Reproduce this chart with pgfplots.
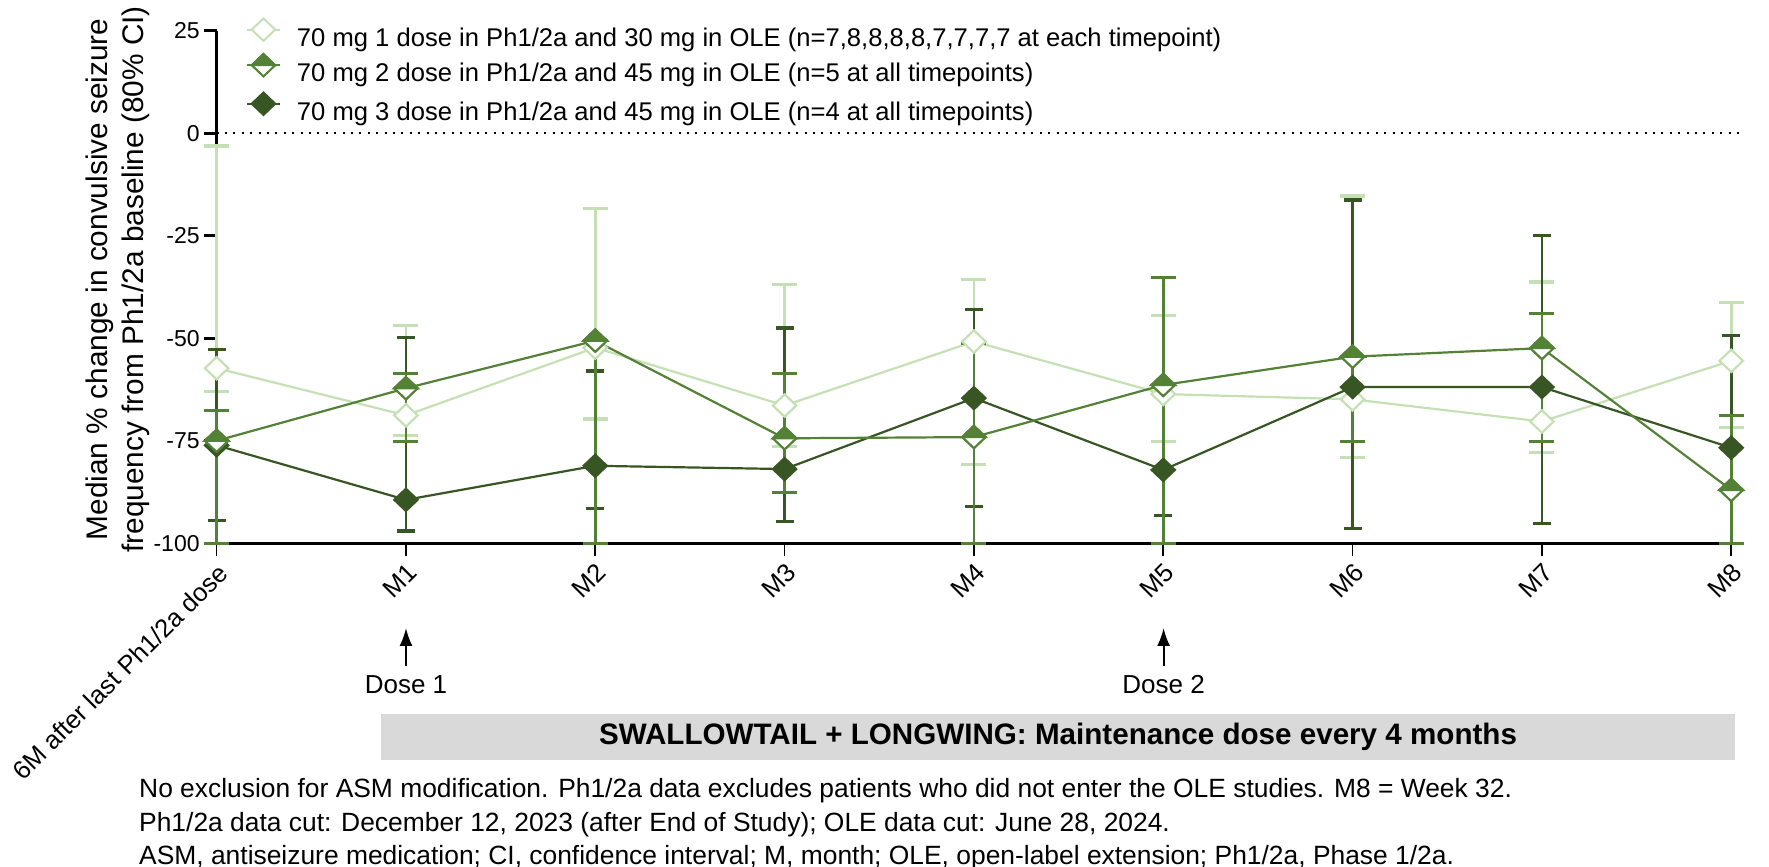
\documentclass[border=0pt]{standalone}
\usepackage{pgfplots}
\pgfplotsset{compat=1.18}
\usepackage{pgfplotstable}
\usetikzlibrary{arrows.meta}
\usepackage{fontspec}
\setmainfont{Liberation Sans}
\definecolor{cL}{HTML}{C5E0B4}
\definecolor{cM}{HTML}{538135}
\definecolor{cD}{HTML}{375623}
\definecolor{boxgray}{HTML}{D9D9D9}

\pgfdeclareplotmark{dia}{%
  \pgfpathmoveto{\pgfqpoint{0pt}{\pgfplotmarksize}}%
  \pgfpathlineto{\pgfqpoint{1.05\pgfplotmarksize}{0pt}}%
  \pgfpathlineto{\pgfqpoint{0pt}{-\pgfplotmarksize}}%
  \pgfpathlineto{\pgfqpoint{-1.05\pgfplotmarksize}{0pt}}%
  \pgfpathclose\pgfusepathqfillstroke}
\pgfdeclareplotmark{halfdia}{%
  \pgfsetfillcolor{white}%
  \pgfpathmoveto{\pgfqpoint{0pt}{\pgfplotmarksize}}%
  \pgfpathlineto{\pgfqpoint{1.05\pgfplotmarksize}{0pt}}%
  \pgfpathlineto{\pgfqpoint{0pt}{-\pgfplotmarksize}}%
  \pgfpathlineto{\pgfqpoint{-1.05\pgfplotmarksize}{0pt}}%
  \pgfpathclose\pgfusepathqfillstroke
  \pgfsetfillcolor{cM}%
  \pgfpathmoveto{\pgfqpoint{-1.05\pgfplotmarksize}{0pt}}%
  \pgfpathlineto{\pgfqpoint{0pt}{\pgfplotmarksize}}%
  \pgfpathlineto{\pgfqpoint{1.05\pgfplotmarksize}{0pt}}%
  \pgfpathclose\pgfusepathqfillstroke}

\pgfplotsset{
  legax/.style={
    at={(0pt,0pt)}, anchor=south west,
    scale only axis, width=763pt, height=256.3pt,
    hide axis, xmin=0, xmax=763, ymin=0, ymax=256.3, clip=false,
    legend cell align=left,
    legend style={at={(axis cs:15,#1)}, anchor=west,
      draw=none, fill=none, inner sep=0pt,
      font=\fontsize{12.8}{14}\selectfont,
      nodes={inner sep=0pt, text height=11pt, text depth=3.5pt},
      /tikz/every odd column/.append style={column sep=8.5pt}},
    legend image code/.code={%
      \pgfpathrectangle{\pgfqpoint{0pt}{-3.5pt}}{\pgfqpoint{16.5pt}{14.5pt}}\pgfusepath{use as bounding box}%
      \draw[mark repeat=2,mark phase=2] plot coordinates {(0pt,4.5pt) (8.25pt,4.5pt) (16.5pt,4.5pt)};},
  }
}

% x  median  error-plus  error-minus
\pgfplotstableread{
x y ep em
0 -57.3 54.2 5.6
1 -68.8 21.9 5.0
2 -52.3 33.9 17.4
3 -66.4 29.5 10.0
4 -50.8 15.2 29.9
5 -63.6 19.2 11.5
6 -64.9 49.6 14.1
7 -70.3 34.0 7.5
8 -55.5 14.3 16.2
}\serL
\pgfplotstableread{
x y ep em
0 -75.0 7.4 25.0
1 -62.2 3.7 12.9
2 -50.6 0.0 49.4
3 -74.4 15.9 13.2
4 -74.1 22.9 25.9
5 -61.4 26.3 38.6
6 -54.5 0.0 20.7
7 -52.4 8.5 22.8
8 -87.0 18.2 13.0
}\serM
\pgfplotstableread{
x y ep em
0 -76.1 23.4 18.3
1 -89.4 39.6 7.6
2 -81.1 23.1 10.4
3 -81.9 34.4 12.7
4 -64.6 21.7 26.5
5 -82.1 0.0 11.1
6 -61.9 45.6 34.4
7 -61.9 37.0 33.2
8 -76.7 27.3 0.0
}\serD

\begin{document}
\begin{tikzpicture}
\useasboundingbox (-108.3pt,-161.85pt) rectangle (776.2pt,271.65pt);
\begin{axis}[
  at={(0pt,0pt)}, anchor=south west,
  scale only axis, width=763pt, height=256.3pt,
  xmin=0, xmax=8.06, ymin=-100, ymax=25,
  axis x line*=bottom, axis y line*=left,
  axis line style={line width=1.5pt, -},
  xtick={0,1,2,3,4,5,6,7,8},
  xticklabels={6M after last Ph1/2a dose,M1,M2,M3,M4,M5,M6,M7,M8},
  ytick={-100,-75,-50,-25,0,25},
  yticklabels={-100,-75,-50,-25,0,25},
  tick align=outside, major tick length=6.3pt,
  xtick style={line width=0.9pt, black},
  ytick style={line width=1.5pt, black},
  xticklabel style={rotate=45, anchor=north east, inner sep=2pt, font=\fontsize{12.8}{14}\selectfont},
  yticklabel style={font=\fontsize{11.5}{13}\selectfont, inner sep=2pt},
  clip=false,
]
\draw[black, line width=1pt, dash pattern=on 1pt off 3.2pt] (axis cs:0,0) -- (axis cs:8.06,0);

\addplot[forget plot, cL, line width=1.1pt, mark=dia, mark size=5.6pt,
  mark options={fill=white, line width=1.1pt, solid},
  error bars/.cd, y dir=both, y explicit,
  error bar style={line width=1.3pt, cL},
  error mark options={rotate=90, mark size=6.25pt, line width=1.6pt, cL}]
  table[x=x, y=y, y error plus=ep, y error minus=em] {\serL};
\addplot[forget plot, cD, line width=1.1pt, mark=dia, mark size=5.6pt,
  mark options={fill=cD, line width=1pt, solid},
  error bars/.cd, y dir=both, y explicit,
  error bar style={line width=1.3pt, cD},
  error mark options={rotate=90, mark size=4.5pt, line width=1.6pt, cD}]
  table[x=x, y=y, y error plus=ep, y error minus=em] {\serD};
\addplot[forget plot, cM, line width=1.1pt, mark=halfdia, mark size=5.6pt,
  mark options={line width=1.1pt, solid},
  error bars/.cd, y dir=both, y explicit,
  error bar style={line width=1.3pt, cM},
  error mark options={rotate=90, mark size=6.25pt, line width=1.6pt, cM}]
  table[x=x, y=y, y error plus=ep, y error minus=em] {\serM};
\end{axis}

\begin{axis}[legax=254.2]
\addlegendimage{cL, line width=1pt, mark=dia, mark size=5.6pt, mark options={fill=white, line width=1pt}}
\addlegendentry{70 mg 1 dose in Ph1/2a and 30 mg in OLE (n=7,8,8,8,8,7,7,7,7 at each timepoint)}
\end{axis}
\begin{axis}[legax=236.4]
\addlegendimage{cM, line width=1pt, mark=halfdia, mark size=5.6pt, mark options={line width=1pt}}
\addlegendentry{70 mg 2 dose in Ph1/2a and 45 mg in OLE (n=5 at all timepoints)}
\end{axis}
\begin{axis}[legax=217.15]
\addlegendimage{cD, line width=1pt, mark=dia, mark size=5.6pt, mark options={fill=cD, line width=1pt}}
\addlegendentry{70 mg 3 dose in Ph1/2a and 45 mg in OLE (n=4 at all timepoints)}
\end{axis}

\node[rotate=90, align=center, inner sep=0pt, font=\fontsize{14.9}{18}\selectfont] at (-49.6pt,132pt)
  {Median \% change in convulsive seizure\\frequency from Ph1/2a baseline (80\% CI)};

\draw[line width=1pt, -{Latex[length=9pt,width=6.5pt]}] (94.7pt,-61.35pt) -- (94.7pt,-42.35pt);
\draw[line width=1pt, -{Latex[length=9pt,width=6.5pt]}] (473.5pt,-61.35pt) -- (473.5pt,-42.35pt);
\node[inner sep=0pt, font=\fontsize{13}{14}\selectfont] at (94.7pt,-70.85pt) {Dose 1};
\node[inner sep=0pt, font=\fontsize{13}{14}\selectfont] at (473.5pt,-70.85pt) {Dose 2};

\fill[boxgray] (82.2pt,-85.35pt) rectangle (759.2pt,-108.35pt);
\node[inner sep=0pt, font=\fontsize{14.8}{16}\selectfont\bfseries] at (420.7pt,-96.85pt)
  {SWALLOWTAIL + LONGWING: Maintenance dose every 4 months};

\node[anchor=west, inner sep=0pt, font=\fontsize{13.2}{15}\selectfont] at (-38.9pt,-123.5pt)
  {No exclusion for ASM modification. Ph1/2a data excludes patients who did not enter the OLE studies. M8 = Week 32.};
\node[anchor=west, inner sep=0pt, font=\fontsize{13.2}{15}\selectfont] at (-38.9pt,-140.5pt)
  {Ph1/2a data cut: December 12, 2023 (after End of Study); OLE data cut: June 28, 2024.};
\node[anchor=west, inner sep=0pt, font=\fontsize{13.2}{15}\selectfont] at (-38.9pt,-157.2pt)
  {ASM, antiseizure medication; CI, confidence interval; M, month; OLE, open-label extension; Ph1/2a, Phase 1/2a.};
\end{tikzpicture}
\end{document}
